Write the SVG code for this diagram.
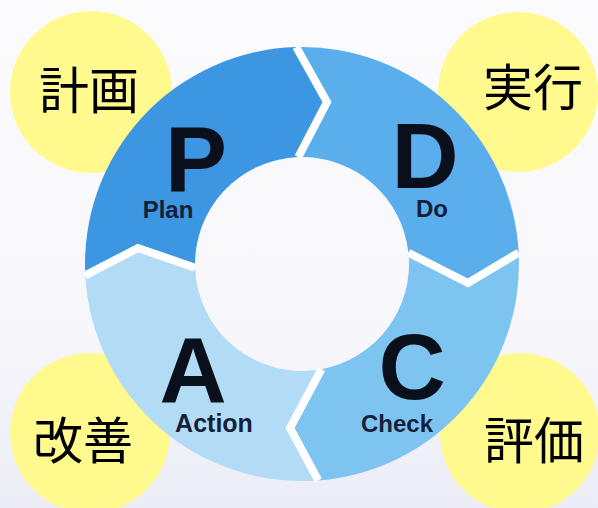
<svg xmlns="http://www.w3.org/2000/svg" width="598" height="508" viewBox="0 0 598 508">
<defs>
<linearGradient id="bg" x1="0" y1="0" x2="0" y2="1">
<stop offset="0" stop-color="#fbfbfd"/>
<stop offset="0.6" stop-color="#f8f8fc"/>
<stop offset="1" stop-color="#ececf6"/>
</linearGradient>
</defs>
<style>
.badge{fill:#fff98e}
.jp{font-family:"Noto Sans CJK JP","Noto Sans CJK SC",sans-serif;font-size:50px;fill:#000;text-anchor:middle}
.big{font-family:"Liberation Sans",Arial,sans-serif;font-weight:bold;font-size:93px;fill:#0a0f1c;text-anchor:middle}
.small{font-family:"Liberation Sans",Arial,sans-serif;font-weight:bold;font-size:24px;fill:#14203a;text-anchor:middle}
.sep{fill:none;stroke:#fff;stroke-width:8;stroke-linejoin:miter}
</style>
<rect width="598" height="508" fill="url(#bg)"/>

<g id="badge-plan"><circle class="badge" cx="91" cy="92" r="81"/><text class="jp" x="89" y="109">計画</text></g>
<g id="badge-do"><circle class="badge" cx="518" cy="92" r="80"/><text class="jp" x="533" y="106">実行</text></g>
<g id="badge-action"><circle class="badge" cx="90" cy="433" r="80"/><text class="jp" x="83" y="459">改善</text></g>
<g id="badge-check"><circle class="badge" cx="520" cy="433" r="80"/><text class="jp" x="534" y="459">評価</text></g>

<g id="node-plan">
<path fill="#3c96e2" d="M85.3,275.4 A217,217 0 0 1 296.3,47.1 L327,102 L298.3,157.1 A107,107 0 0 0 195.1,267.7 L138,248 Z"/>
<text class="big" x="196" y="192">P</text>
<text class="small" x="168" y="218">Plan</text>
</g>
<g id="node-do">
<path fill="#5aaeeb" d="M296.3,47.1 A217,217 0 0 1 518.7,252.6 L468,283 L408.4,252.8 A107,107 0 0 0 298.3,157.1 L327,102 Z"/>
<text class="big" x="425" y="188">D</text>
<text class="small" x="432" y="217">Do</text>
</g>
<g id="node-check">
<path fill="#7ec4f0" d="M518.7,252.6 A217,217 0 0 1 318.3,480.4 L290,428 L321.5,369.2 A107,107 0 0 0 408.4,252.8 L468,283 Z"/>
<text class="big" x="412" y="399">C</text>
<text class="small" x="397" y="432">Check</text>
</g>
<g id="node-action">
<path fill="#b2dcf5" d="M318.3,480.4 A217,217 0 0 1 85.3,275.4 L138,248 L195.1,267.7 A107,107 0 0 0 321.5,369.2 L290,428 Z"/>
<text class="big" x="193" y="402">A</text>
<text class="small" x="214" y="432" style="font-size:25px">Action</text>
</g>

<g id="connectors">
<polyline class="sep" points="296.3,47.1 327,102 298.3,157.1"/>
<polyline class="sep" points="518.7,252.6 468,283 408.4,252.8"/>
<polyline class="sep" points="318.3,480.4 290,428 321.5,369.2"/>
<polyline class="sep" points="85.3,275.4 138,248 195.1,267.7"/>
</g>
</svg>
